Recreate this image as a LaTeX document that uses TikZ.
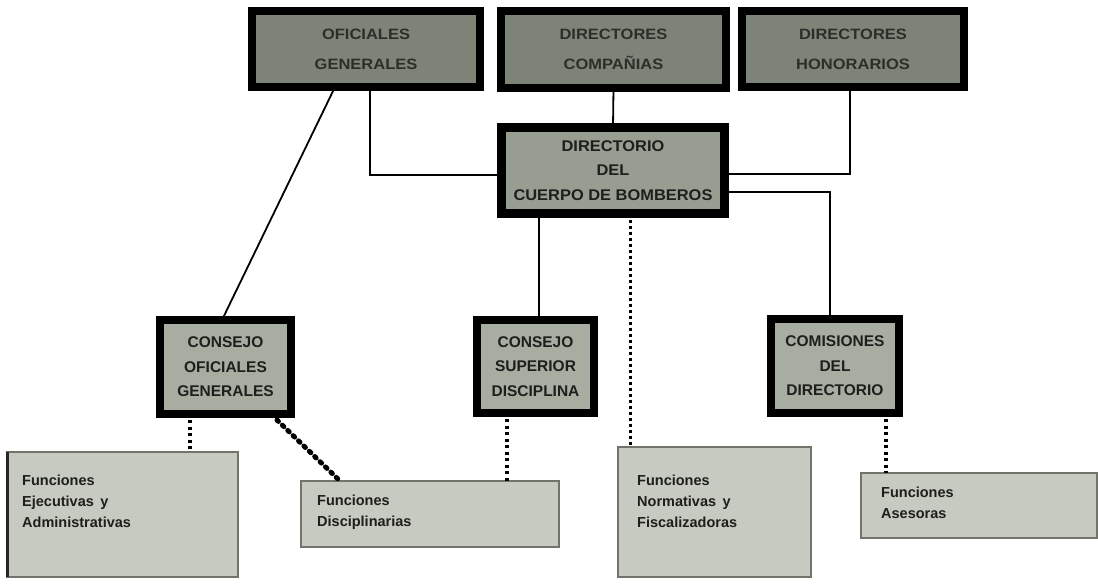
\documentclass[tikz,border=0pt]{standalone}
\usepackage{fontspec}
\setmainfont{Liberation Sans}
\newfontfamily\widefont[FakeStretch=1.1]{Liberation Sans Bold}
\newfontfamily\boldwide[FakeStretch=1.06]{Liberation Sans Bold}
\definecolor{topfill}{RGB}{126,131,120}
\definecolor{dirfill}{RGB}{152,157,146}
\definecolor{consfill}{RGB}{168,173,161}
\definecolor{funcfill}{RGB}{198,202,192}
\definecolor{funcline}{RGB}{112,116,106}
\definecolor{txt}{RGB}{30,30,28}
\definecolor{toptxt}{RGB}{45,46,42}
\tikzset{
  topbox/.style={draw=black, line width=8pt, fill=topfill, inner sep=0pt, outer sep=0pt, align=center,
    text=toptxt, font=\widefont\fontsize{15}{30}\selectfont},
  dirbox/.style={draw=black, line width=9pt, fill=dirfill, inner sep=0pt, outer sep=0pt, align=center,
    text=txt, font=\boldwide\fontsize{15.5}{24.5}\selectfont},
  consbox/.style={draw=black, line width=8pt, fill=consfill, inner sep=0pt, outer sep=0pt, align=center,
    text=txt, font=\bfseries\fontsize{15.5}{24.5}\selectfont},
  funcbox/.style={draw=funcline, line width=1.6pt, fill=funcfill, inner sep=0pt, outer sep=0pt},
  functext/.style={anchor=north west, inner sep=0pt, align=left, text=txt,
    font=\bfseries\fontsize{14.5}{21}\selectfont},
  solidcon/.style={draw=black, line width=1.8pt},
  dotcon/.style={draw=black, line width=3.5pt, dash pattern=on 3pt off 3.5pt},
  thindotcon/.style={draw=black, line width=3pt, dash pattern=on 3pt off 3pt},
  bigdotcon/.style={draw=black, line width=5pt, line cap=round, dash pattern=on 2pt off 5.5pt},
}
\begin{document}
\begin{tikzpicture}[x=1pt, y=-1pt]
\useasboundingbox[fill=white] (0,0) rectangle (1098,586);
% top row
\node[topbox, minimum width=228pt, minimum height=76pt] (og) at (366,49) {OFICIALES\\GENERALES};
\node[topbox, minimum width=225pt, minimum height=77pt] (dc) at (613.5,49.5) {DIRECTORES\\COMPA\~NIAS};
\node[topbox, minimum width=222pt, minimum height=76pt] (dh) at (853,49) {DIRECTORES\\HONORARIOS};
% directorio
\node[dirbox, minimum width=223pt, minimum height=86pt] (dir) at (613,170.5) {DIRECTORIO\\DEL\\CUERPO DE BOMBEROS};
% consejos
\node[consbox, minimum width=131pt, minimum height=94pt] (cog) at (225.5,367) {CONSEJO\\OFICIALES\\GENERALES};
\node[consbox, minimum width=117pt, minimum height=93pt] (csd) at (535.5,366.5) {CONSEJO\\SUPERIOR\\DISCIPLINA};
\node[consbox, minimum width=128pt, minimum height=94pt] (cd) at (835,366) {COMISIONES\\DEL\\DIRECTORIO};
% funciones
\node[funcbox, minimum width=231pt, minimum height=125pt] (fe) at (122.5,514.5) {};
\node[funcbox, minimum width=258pt, minimum height=66pt] (fd) at (430,514) {};
\node[funcbox, minimum width=193pt, minimum height=130pt] (fn) at (714.5,512) {};
\node[funcbox, minimum width=236pt, minimum height=65pt] (fa) at (979,505.5) {};
\draw[draw=black!85, line width=3pt] (fe.north west) -- (fe.south west);
\node[functext] (tfe) at (22,475) {Funciones\\Ejecutivas\, y\\Administrativas};
\node[functext] (tfd) at (317,495) {Funciones\\Disciplinarias};
\node[functext] (tfn) at (637,475) {Funciones\\Normativas\, y\\Fiscalizadoras};
\node[functext] (tfa) at (881,487) {Funciones\\Asesoras};
% solid connectors
\draw[solidcon] ([xshift=-31pt]og.south) -- ([xshift=-3.5pt]cog.north);
\draw[solidcon] ([xshift=4pt]og.south) |- ([yshift=-4.5pt]dir.west);
\draw[solidcon] (dc.south) -- (dir.north);
\draw[solidcon] ([xshift=-3pt]dh.south) |- ([yshift=-3.5pt]dir.east);
\draw[solidcon] ([yshift=-21.5pt]dir.east) -| ([xshift=-5pt]cd.north);
\coordinate (c1) at ([xshift=3.5pt]csd.north);
\draw[solidcon] (c1) -- (c1 |- dir.south);
% dotted connectors
\coordinate (c2) at ([xshift=12pt]fn.north west);
\draw[thindotcon] ([yshift=-6pt]c2 |- dir.south) -- (c2);
\coordinate (c3) at ([xshift=-35.5pt]cog.south);
\draw[dotcon] ([yshift=-6pt]c3) -- (c3 |- fe.north);
\coordinate (c4) at ([xshift=-28.5pt]csd.south);
\draw[dotcon] ([yshift=-6pt]c4) -- (c4 |- fd.north);
\coordinate (c5) at ([xshift=51pt]cd.south);
\draw[dotcon] ([yshift=-6pt]c5) -- (c5 |- fa.north);
\draw[bigdotcon] ([xshift=-14pt,yshift=-6pt]cog.south east) -- ([xshift=39pt]fd.north west);
\end{tikzpicture}
\end{document}
